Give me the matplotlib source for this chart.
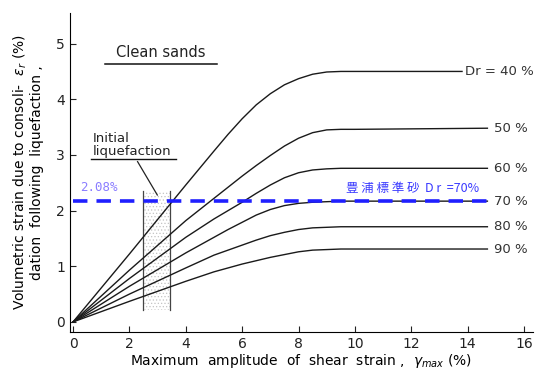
# Volumetric strain after liquefaction vs. max shear strain (Dr curves)
import numpy as np
import matplotlib
matplotlib.use("Agg")
import matplotlib.pyplot as plt

plt.rcParams['font.family'] = ['DejaVu Sans', 'Noto Sans CJK JP']
plt.rcParams['hatch.linewidth'] = 0.5

# Data -----------------------------------------------------------
dr_labels = ["Dr = 40 %", "50 %", "60 %", "70 %", "80 %", "90 %"]
x_grid = [0, 2, 4, 5, 5.5, 6, 6.5, 7, 7.5, 8, 8.5, 9, 9.5, 10]
x_end = [13.8, 14.7, 14.7, 14.7, 14.7, 14.7]
strain_40 = [0, 1.22, 2.46, 3.07, 3.37, 3.65, 3.90, 4.10, 4.26, 4.37, 4.45, 4.49, 4.50, 4.50, 4.50]
strain_50 = [0, 0.93, 1.82, 2.22, 2.42, 2.62, 2.81, 2.99, 3.16, 3.30, 3.40, 3.45, 3.46, 3.46, 3.48]
strain_60 = [0, 0.78, 1.52, 1.85, 2.00, 2.15, 2.31, 2.46, 2.59, 2.68, 2.73, 2.75, 2.76, 2.76, 2.76]
strain_70 = [0, 0.64, 1.24, 1.52, 1.66, 1.79, 1.92, 2.02, 2.09, 2.13, 2.15, 2.16, 2.17, 2.17, 2.17]
strain_80 = [0, 0.50, 0.97, 1.20, 1.29, 1.38, 1.47, 1.55, 1.61, 1.66, 1.69, 1.70, 1.71, 1.71, 1.71]
strain_90 = [0, 0.37, 0.73, 0.90, 0.97, 1.04, 1.10, 1.16, 1.21, 1.26, 1.29, 1.30, 1.31, 1.31, 1.31]
curves = [strain_40, strain_50, strain_60, strain_70, strain_80, strain_90]

# initial liquefaction band
band_x = [2.48, 3.44]
band_y = [0.22, 2.35]

# Toyoura sand reference
toyoura_strain = 2.18
toyoura_text = "2.08%"
toyoura_label = "豊 浦 標 準 砂  D r  =70%"

fig = plt.figure(figsize=(5.42, 3.82), dpi=100)
ax = fig.add_axes([0.129, 0.131, 0.854, 0.835])

# band
ax.fill_between(band_x, band_y[0], band_y[1], facecolor='white',
                edgecolor='#c4c4c4', hatch='.....', linewidth=0)
for bx in band_x:
    ax.plot([bx, bx], band_y, color='#444444', lw=0.9)

# curves
for ys, xe, lab in zip(curves, x_end, dr_labels):
    xs = x_grid + [xe]
    ax.plot(xs, ys, color='#1a1a1a', lw=1.0)
    ax.text(xe + 0.1 if lab.startswith("Dr") else 14.95, ys[-1], lab,
            fontsize=9.5, va='center', ha='left', color='#333333')

# blue dashed reference
ax.plot([0, 14.7], [toyoura_strain] * 2, color='#1f1fff', lw=2.6,
        dashes=(4, 2.5))
ax.text(0.25, toyoura_strain + 0.12, toyoura_text, color='#8a7cff',
        fontsize=9, family='DejaVu Sans Mono', va='bottom')
ax.text(9.7, toyoura_strain + 0.1, toyoura_label, color='#3a3aff',
        fontsize=9, va='bottom', ha='left',
        family=['Noto Sans CJK JP', 'DejaVu Sans'])

# annotations
ax.text(3.1, 4.71, "Clean sands", fontsize=10.5, ha='center', va='bottom',
        color='#222222')
ax.plot([1.14, 5.11], [4.63, 4.63], color='#111111', lw=1.1)
ax.text(0.7, 2.95, "Initial\nliquefaction", fontsize=9.5, ha='left',
        va='bottom', linespacing=0.95, color='#222222')
ax.plot([0.65, 3.65], [2.93, 2.93], color='#111111', lw=1.0)
ax.plot([2.29, 2.99], [2.88, 2.28], color='#222222', lw=0.9)

# axes
ax.set_xlim(-0.11, 16.31)
ax.set_ylim(-0.18, 5.55)
ax.spines['top'].set_visible(False)
ax.spines['right'].set_visible(False)
ax.set_xticks(range(0, 17, 2))
ax.set_yticks(range(0, 6))
ax.tick_params(direction='in', length=4, labelsize=10, colors='#222222')
ax.set_xlabel("Maximum  amplitude  of  shear  strain ,  $\\gamma_{max}$ (%)",
              fontsize=10, labelpad=1)
ax.set_ylabel("Volumetric strain due to consoli-  $\\epsilon_r$ (%)\n"
              "dation  following  liquefaction ,",
              fontsize=10, labelpad=9, linespacing=1.05)

fig.savefig("out.png", dpi=100)
